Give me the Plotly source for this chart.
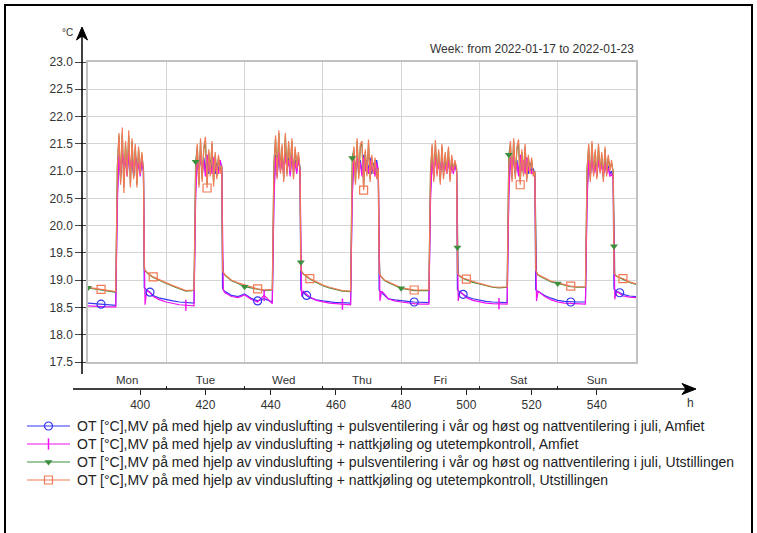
import plotly.graph_objects as go

# ---------------------------------------------------------------- time grid
WEEK_START = 384          # hour of year, Monday 2022-01-17 00:00
WEEK_END = 552
DAY_OFFSETS = [0, 2, 4, 6, 8.5,
               9, 9.5, 10, 10.5, 11, 11.5, 12, 12.5, 13, 13.5, 14, 14.5,
               15, 15.5, 16, 16.5, 17,
               17.25, 17.5, 18, 19, 20, 22]
DAY_NAMES = ["Mon", "Tue", "Wed", "Thu", "Fri", "Sat", "Sun"]
DAY_CENTERS = [396, 420, 444, 468, 492, 516, 540]
DAY_BOUNDS = [408, 432, 456, 480, 504, 528, 552]
HOUR_TICKS = [400, 420, 440, 460, 480, 500, 520, 540]
TEMP_TICKS = [17.5, 18.0, 18.5, 19.0, 19.5, 20.0, 20.5, 21.0, 21.5, 22.0, 22.5, 23.0]

# ---------------------------------------------------------------- series (°C), one row per day
amfiet_puls = [
    [18.58, 18.57, 18.56, 18.55, 18.54,
     20.6, 21.25, 20.9, 21.35, 21.05, 21.2, 20.95, 21.3, 21.0, 21.25, 20.9, 21.3, 21.05, 21.1, 20.95, 21.15, 21.0,
     18.86, 18.85, 18.82, 18.78, 18.72, 18.67],
    [18.64, 18.62, 18.6, 18.59, 18.58,
     20.7, 21.2, 21.0, 21.3, 20.95, 21.25, 21.0, 21.3, 20.95, 21.2, 21.0, 21.25, 20.95, 21.15, 21.0, 21.2, 21.05,
     18.86, 18.82, 18.79, 18.76, 18.72, 18.7],
    [18.75, 18.67, 18.62, 18.66, 18.6,
     20.6, 21.3, 20.95, 21.3, 21.05, 21.25, 21.0, 21.35, 21.0, 21.25, 20.95, 21.3, 21.05, 21.2, 21.0, 21.2, 21.05,
     18.82, 18.8, 18.77, 18.72, 18.68, 18.64],
    [18.62, 18.6, 18.59, 18.59, 18.58,
     20.65, 21.25, 21.0, 21.3, 20.95, 21.2, 20.95, 21.3, 21.05, 21.2, 21.0, 21.25, 20.95, 21.15, 20.95, 21.2, 21.0,
     18.82, 18.8, 18.77, 18.72, 18.66, 18.64],
    [18.62, 18.61, 18.6, 18.59, 18.59,
     20.6, 21.2, 20.95, 21.3, 21.0, 21.2, 20.95, 21.25, 21.0, 21.15, 21.0, 21.2, 20.95, 21.15, 21.0, 21.1, 21.0,
     18.83, 18.81, 18.78, 18.74, 18.7, 18.66],
    [18.63, 18.61, 18.6, 18.59, 18.59,
     20.65, 21.25, 21.0, 21.3, 20.95, 21.2, 20.95, 21.3, 21.05, 21.2, 21.0, 21.25, 20.95, 21.15, 21.0, 21.05, 20.95,
     18.83, 18.81, 18.79, 18.76, 18.72, 18.67],
    [18.63, 18.61, 18.6, 18.6, 18.6,
     20.6, 21.2, 20.95, 21.25, 21.0, 21.15, 20.95, 21.2, 21.0, 21.15, 20.95, 21.2, 21.0, 21.1, 20.95, 21.0, 20.9,
     18.84, 18.82, 18.8, 18.77, 18.74, 18.71],
]
amfiet_puls_end = 18.7

amfiet_natt = [
    [18.53, 18.52, 18.52, 18.51, 18.51,
     20.4, 21.3, 20.95, 21.4, 21.0, 21.25, 20.9, 21.35, 21.05, 21.2, 20.95, 21.3, 21.0, 21.15, 20.9, 21.2, 21.0,
     19.5, 18.55, 18.82, 18.77, 18.7, 18.64],
    [18.6, 18.57, 18.55, 18.54, 18.53,
     20.5, 21.2, 20.95, 21.3, 21.0, 21.2, 20.9, 21.3, 21.0, 21.15, 20.95, 21.25, 21.0, 21.1, 20.95, 21.2, 21.05,
     19.65, 18.82, 18.77, 18.74, 18.7, 18.68],
    [18.73, 18.65, 18.6, 18.72, 18.57,
     20.45, 21.25, 20.9, 21.35, 21.0, 21.2, 20.95, 21.3, 21.05, 21.2, 20.9, 21.3, 21.0, 21.15, 20.95, 21.25, 21.0,
     19.64, 18.7, 18.8, 18.74, 18.69, 18.63],
    [18.6, 18.58, 18.57, 18.56, 18.55,
     20.5, 21.2, 20.95, 21.3, 21.0, 21.15, 20.9, 21.25, 21.0, 21.15, 20.95, 21.2, 21.0, 21.1, 20.9, 21.15, 21.0,
     19.68, 18.62, 18.8, 18.74, 18.66, 18.62],
    [18.6, 18.58, 18.57, 18.56, 18.56,
     20.45, 21.2, 20.9, 21.25, 20.95, 21.15, 20.9, 21.25, 21.0, 21.1, 20.95, 21.2, 20.9, 21.1, 20.95, 21.1, 21.0,
     19.8, 18.62, 18.8, 18.74, 18.68, 18.63],
    [18.6, 18.58, 18.57, 18.57, 18.56,
     20.5, 21.25, 20.95, 21.3, 21.0, 21.15, 20.9, 21.3, 21.0, 21.2, 20.95, 21.25, 21.0, 21.1, 20.95, 21.0, 20.88,
     19.83, 18.62, 18.8, 18.75, 18.7, 18.64],
    [18.6, 18.58, 18.57, 18.57, 18.56,
     20.45, 21.2, 20.9, 21.25, 20.95, 21.1, 20.9, 21.2, 21.0, 21.1, 20.9, 21.15, 20.95, 21.05, 20.9, 20.95, 20.87,
     19.85, 18.65, 18.8, 18.75, 18.71, 18.69],
]
amfiet_natt_end = 18.68

utst_puls = [
    [18.86, 18.84, 18.82, 18.8, 18.78,
     21.1, 21.65, 20.8, 21.7, 20.7, 21.5, 20.95, 21.65, 20.75, 21.55, 20.9, 21.45, 20.75, 21.4, 21.0, 21.3, 21.05,
     19.25, 19.17, 19.14, 19.09, 19.05, 18.99],
    [18.94, 18.89, 18.85, 18.8, 18.81,
     21.17, 21.45, 20.75, 21.55, 20.85, 21.4, 21.55, 20.75, 21.35, 20.95, 21.5, 20.8, 21.3, 20.9, 21.25, 21.0, 21.1,
     19.45, 19.13, 19.09, 19.04, 18.99, 18.94],
    [18.88, 18.86, 18.83, 18.81, 18.82,
     21.15, 21.6, 20.9, 21.7, 21.0, 21.45, 20.85, 21.65, 20.95, 21.5, 21.05, 21.55, 20.9, 21.4, 21.1, 21.3, 21.05,
     19.33, 19.15, 19.11, 19.07, 19.02, 18.96],
    [18.9, 18.86, 18.83, 18.8, 18.79,
     21.24, 21.4, 20.8, 21.55, 20.9, 21.45, 21.5, 20.7, 21.35, 20.95, 21.5, 20.85, 21.25, 21.0, 21.2, 20.9, 21.05,
     19.5, 19.09, 19.05, 18.99, 18.96, 18.9],
    [18.85, 18.83, 18.81, 18.81, 18.81,
     21.0, 21.45, 20.85, 21.5, 20.95, 21.35, 20.8, 21.45, 20.9, 21.3, 21.0, 21.4, 20.85, 21.25, 21.05, 21.15, 21.05,
     19.6, 19.1, 19.07, 19.03, 19.01, 18.96],
    [18.93, 18.9, 18.87, 18.86, 18.87,
     21.3, 21.5, 20.85, 21.55, 20.9, 21.4, 21.5, 20.8, 21.35, 20.95, 21.45, 20.85, 21.25, 21.0, 21.2, 20.95, 21.0,
     19.6, 19.14, 19.09, 19.06, 19.03, 18.97],
    [18.94, 18.91, 18.88, 18.87, 18.87,
     21.05, 21.45, 20.85, 21.5, 20.95, 21.35, 20.9, 21.45, 21.0, 21.3, 20.85, 21.4, 20.95, 21.25, 21.05, 21.15, 21.0,
     19.62, 19.1, 19.07, 19.04, 19.02, 18.96],
]
utst_puls_end = 18.92

utst_natt = [
    [18.87, 18.85, 18.83, 18.81, 18.79,
     21.05, 21.7, 20.75, 21.8, 20.6, 21.55, 20.9, 21.75, 20.7, 21.6, 20.85, 21.5, 20.7, 21.45, 20.95, 21.35, 21.0,
     19.2, 19.18, 19.15, 19.1, 19.06, 19.0],
    [18.95, 18.9, 18.86, 18.81, 18.82,
     20.95, 21.5, 20.7, 21.6, 20.8, 21.45, 21.63, 20.69, 21.4, 20.9, 21.55, 20.72, 21.35, 20.85, 21.3, 20.95, 21.1,
     19.17, 19.14, 19.1, 19.05, 19.0, 18.95],
    [18.91, 18.87, 18.84, 18.82, 18.83,
     21.1, 21.65, 20.85, 21.75, 20.95, 21.5, 20.8, 21.7, 20.9, 21.55, 21.0, 21.6, 20.85, 21.45, 21.05, 21.35, 21.0,
     19.19, 19.16, 19.12, 19.08, 19.03, 18.97],
    [18.91, 18.87, 18.84, 18.81, 18.8,
     21.0, 21.45, 20.75, 21.6, 20.85, 21.5, 21.55, 20.65, 21.4, 20.9, 21.58, 20.8, 21.3, 20.95, 21.25, 20.85, 21.05,
     19.13, 19.1, 19.06, 19.0, 18.97, 18.91],
    [18.86, 18.84, 18.82, 18.82, 18.82,
     20.95, 21.5, 20.8, 21.57, 20.9, 21.4, 20.75, 21.5, 20.85, 21.35, 20.95, 21.45, 20.8, 21.3, 21.0, 21.2, 21.05,
     19.13, 19.11, 19.08, 19.04, 19.02, 18.97],
    [18.94, 18.91, 18.88, 18.87, 18.88,
     21.1, 21.55, 20.8, 21.6, 20.85, 21.45, 21.58, 20.75, 21.4, 20.9, 21.5, 20.8, 21.3, 20.95, 21.25, 20.9, 21.0,
     19.19, 19.15, 19.1, 19.07, 19.04, 18.98],
    [18.95, 18.92, 18.89, 18.88, 18.88,
     21.0, 21.5, 20.8, 21.55, 20.9, 21.4, 20.85, 21.5, 20.95, 21.35, 20.8, 21.45, 20.9, 21.3, 21.0, 21.2, 20.95,
     19.13, 19.11, 19.08, 19.05, 19.03, 18.97],
]
utst_natt_end = 18.93

# hours at which each curve carries its symbol
amfiet_puls_marks = [388, 403, 436, 451, 484, 499, 532, 547]
amfiet_natt_marks = [414, 438, 462, 510]
utst_puls_marks = [384, 417, 432, 449.25, 465, 480, 497.25, 513, 528, 545.25]
utst_natt_marks = [388, 404, 420.5, 436, 452, 468.5, 484, 500, 516.5, 532, 548]

LEGEND_NAMES = [
    "OT [°C],MV på med hjelp av vinduslufting + pulsventilering i vår og høst og nattventilering i juli, Amfiet",
    "OT [°C],MV på med hjelp av vinduslufting + nattkjøling og utetempkontroll, Amfiet",
    "OT [°C],MV på med hjelp av vinduslufting + pulsventilering i vår og høst og nattventilering i juli, Utstillingen",
    "OT [°C],MV på med hjelp av vinduslufting + nattkjøling og utetempkontroll, Utstillingen",
]

# ---------------------------------------------------------------- build
hours = [WEEK_START + 24 * d + o for d in range(7) for o in DAY_OFFSETS] + [WEEK_END]
index_of = {round(h, 3): i for i, h in enumerate(hours)}


def flatten(rows, last):
    return [v for row in rows for v in row] + [last]


BLUE, MAGENTA, GREEN, CORAL = "#3535f5", "#f010f0", "#3d8f3d", "#f47a55"
series = {
    "puls_amf": (flatten(amfiet_puls, amfiet_puls_end), amfiet_puls_marks, BLUE,
                 dict(symbol="circle-open", size=8, line=dict(width=1.2))),
    "natt_amf": (flatten(amfiet_natt, amfiet_natt_end), amfiet_natt_marks, MAGENTA,
                 dict(symbol="line-ns-open", size=8, line=dict(width=1.5))),
    "puls_utst": (flatten(utst_puls, utst_puls_end), utst_puls_marks, GREEN,
                  dict(symbol="triangle-down", size=7, line=dict(width=0))),
    "natt_utst": (flatten(utst_natt, utst_natt_end), utst_natt_marks, CORAL,
                  dict(symbol="square-open", size=8, line=dict(width=1.2))),
}
legend_order = ["puls_amf", "natt_amf", "puls_utst", "natt_utst"]
draw_order = ["puls_amf", "puls_utst", "natt_amf", "natt_utst"]

fig = go.Figure()
for key in draw_order:
    vals, marks, color, mk = series[key]
    fig.add_trace(go.Scatter(x=hours, y=vals, mode="lines", showlegend=False,
                             line=dict(color=color, width=1.2), hoverinfo="skip"))
for key in draw_order:
    vals, marks, color, mk = series[key]
    idx = [index_of[round(h, 3)] for h in marks]
    fig.add_trace(go.Scatter(x=[hours[i] for i in idx], y=[vals[i] for i in idx],
                             mode="markers", showlegend=False,
                             marker=dict(color=color, **mk), hoverinfo="skip"))

# the three decorative hour axes below the plot carry an empty trace each
for ax in ["x2", "x3", "x4"]:
    fig.add_trace(go.Scatter(x=[WEEK_START, WEEK_END], y=[None, None], xaxis=ax, yaxis="y",
                             mode="lines", showlegend=False, hoverinfo="skip"))

# key: one row per series, symbols drawn in a small helper subplot
for row, key in enumerate(legend_order):
    vals, marks, color, mk = series[key]
    r = len(legend_order) - 1 - row
    fig.add_trace(go.Scatter(x=[0, 1], y=[r, r], xaxis="x5", yaxis="y5", mode="lines",
                             line=dict(color=color, width=1.2), showlegend=False, hoverinfo="skip"))
    fig.add_trace(go.Scatter(x=[0.5], y=[r], xaxis="x5", yaxis="y5", mode="markers",
                             marker=dict(color=color, **mk), showlegend=False, hoverinfo="skip",
                             cliponaxis=False))

# ---------------------------------------------------------------- geometry (pixels -> paper)
FW, FH = 757, 533


def px(x):
    return x / FW


def py(y):
    return 1 - y / FH


PLOT_L, PLOT_R, PLOT_T, PLOT_B = 88, 636, 62, 362
AXIS_Y = 389
KEY_X0, KEY_X1, KEY_TEXT_X, KEY_ROW0, KEY_STEP = 27, 70, 75, 426, 18

shapes = [
    dict(type="rect", xref="paper", yref="paper", x0=px(5), x1=px(752), y0=py(560), y1=py(5),
         line=dict(color="black", width=2)),
    dict(type="line", xref="paper", yref="paper", x0=px(82), x1=px(82), y0=py(374), y1=py(36),
         line=dict(color="black", width=1.5)),
    dict(type="path", xref="paper", yref="paper",
         path=f"M {px(82)},{py(27)} L {px(76.5)},{py(40)} L {px(82)},{py(36)} L {px(87.5)},{py(40)} Z",
         fillcolor="black", line=dict(color="black", width=1)),
    dict(type="line", xref="paper", yref="paper", x0=px(73), x1=px(688), y0=py(AXIS_Y), y1=py(AXIS_Y),
         line=dict(color="black", width=1.5)),
    dict(type="path", xref="paper", yref="paper",
         path=f"M {px(696)},{py(AXIS_Y)} L {px(682)},{py(AXIS_Y - 5.5)} L {px(686)},{py(AXIS_Y)} "
              f"L {px(682)},{py(AXIS_Y + 5.5)} Z",
         fillcolor="black", line=dict(color="black", width=1)),
]

FONT = "Liberation Sans, Arial, sans-serif"
annotations = [
    dict(text="Week: from 2022-01-17 to 2022-01-23", xref="paper", yref="paper",
         x=px(PLOT_R), y=py(49), xanchor="right", yanchor="middle", showarrow=False,
         font=dict(family=FONT, size=12, color="#333333")),
    dict(text="°C", xref="paper", yref="paper", x=px(67), y=py(33),
         xanchor="center", yanchor="middle", showarrow=False,
         font=dict(family=FONT, size=10, color="#333333")),
    dict(text="h", xref="paper", yref="paper", x=px(690), y=py(403),
         xanchor="center", yanchor="middle", showarrow=False,
         font=dict(family=FONT, size=12, color="#333333")),
]
for row, key in enumerate(legend_order):
    annotations.append(dict(text=LEGEND_NAMES[row], xref="paper", yref="paper",
                            x=px(KEY_TEXT_X), y=py(KEY_ROW0 + KEY_STEP * row),
                            xanchor="left", yanchor="middle", showarrow=False,
                            font=dict(family=FONT, size=14, color="#222222")))

tickfont = dict(family=FONT, size=12, color="#333333")
dayfont = dict(family=FONT, size=11.5, color="#333333")
xdom = [px(PLOT_L), px(PLOT_R)]
free_common = dict(range=[WEEK_START, WEEK_END], overlaying="x", anchor="free", position=py(AXIS_Y),
                   tickmode="array", showgrid=False, showline=False, zeroline=False, fixedrange=True)

fig.update_layout(
    width=FW, height=FH,
    margin=dict(l=0, r=0, t=0, b=0, pad=0, autoexpand=False),
    paper_bgcolor="white", plot_bgcolor="white",
    font=dict(family=FONT, color="#222222"),
    showlegend=False,
    shapes=shapes, annotations=annotations,
    xaxis=dict(domain=xdom, range=[WEEK_START, WEEK_END], anchor="y", tickmode="array",
               tickvals=DAY_BOUNDS[:-1], showticklabels=False, ticks="",
               showgrid=True, gridcolor="#d4d4d4", gridwidth=1,
               showline=True, linecolor="#c2c2c2", linewidth=1.5, mirror=True,
               zeroline=False, fixedrange=True),
    xaxis2=dict(**free_common, tickvals=HOUR_TICKS, ticks="outside", ticklen=5,
                tickcolor="#222222", tickwidth=1.2, tickfont=tickfont),
    xaxis3=dict(**free_common, tickvals=DAY_BOUNDS, ticks="inside", ticklen=3,
                tickcolor="#222222", tickwidth=1.2, showticklabels=False),
    xaxis4=dict(**free_common, tickvals=DAY_CENTERS, ticktext=DAY_NAMES, ticks="",
                ticklabelposition="inside", tickfont=dayfont),
    yaxis=dict(domain=[py(PLOT_B), py(PLOT_T)], range=[17.5, 23.0], anchor="x", tickmode="array",
               tickvals=TEMP_TICKS, tickformat=".1f", ticks="outside", ticklen=11,
               tickcolor="#444444", tickwidth=1, tickfont=tickfont,
               showgrid=True, gridcolor="#d4d4d4", gridwidth=1,
               showline=True, linecolor="#c2c2c2", linewidth=1.5, mirror=True,
               zeroline=False, fixedrange=True),
    xaxis5=dict(domain=[px(KEY_X0), px(KEY_X1)], range=[0, 1], anchor="y5", visible=False,
                fixedrange=True),
    yaxis5=dict(domain=[py(KEY_ROW0 + KEY_STEP * 3.5), py(KEY_ROW0 - KEY_STEP * 0.5)],
                range=[-0.5, 3.5], anchor="x5", visible=False, fixedrange=True),
)

fig.write_html("out.html")
